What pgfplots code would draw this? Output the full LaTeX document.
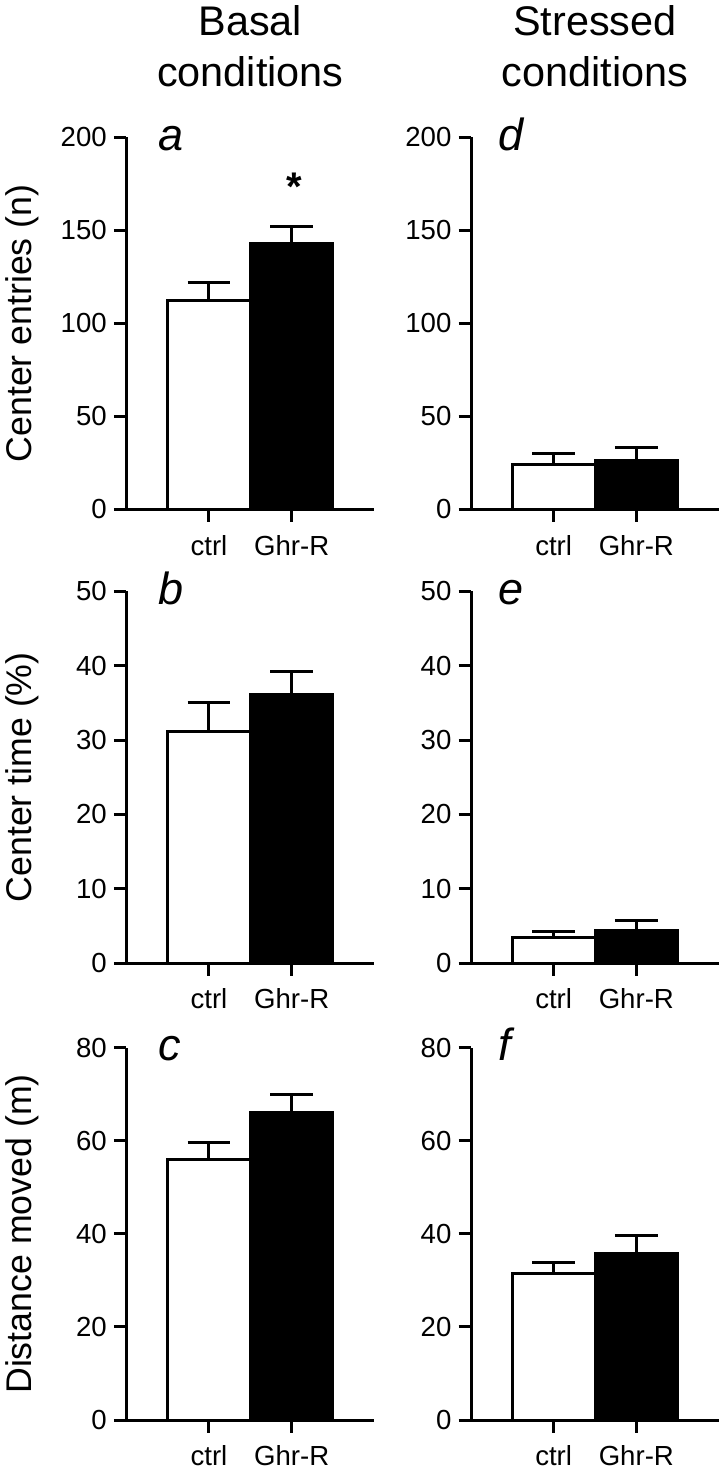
\documentclass[border=0pt]{standalone}
\usepackage{pgfplots}
\pgfplotsset{compat=1.18}
\usepackage{fontspec}
\setmainfont{Liberation Sans}
\pgfplotsset{
  panel/.style={
    scale only axis, width=124pt, height=186pt,
    anchor=south west,
    axis lines=left, axis line style={-, line width=1.5pt, black},
    xmin=0, xmax=3, ymin=0,
    enlargelimits=false,
    xtick={1,2}, xticklabels={ctrl,Ghr-R},
    tick align=outside, major tick length=6.25pt,
    every tick/.style={line width=1.5pt, black},
    ticklabel style={font=\fontsize{13.8}{13.8}\selectfont},
    xticklabel style={yshift=-3pt},
    /pgf/number format/assume math mode=true,
    ylabel style={at={(axis description cs:-0.3823,0.5)}, anchor=base, font=\fontsize{17.85}{18}\selectfont},
    clip=false,
    ybar, bar width=1, bar shift=0pt,
    error bars/y dir=plus, error bars/y explicit,
    error bars/error bar style={line width=1.5pt, black},
    error bars/error mark options={rotate=90, line width=1.5pt, mark size=10.7pt, black},
  },
  ctrl/.style={fill=white, draw=black, line width=1.5pt},
  ghr/.style={fill=black, draw=black, line width=1.5pt},
}
\newcommand{\panelletter}[2]{\node[anchor=base west, font=\fontsize{22.5}{22.5}\selectfont\itshape, xshift=#2, yshift=-6.5pt] at (rel axis cs:0,1) {#1};}
\begin{document}
\begin{tikzpicture}
\useasboundingbox (0,0) rectangle (360pt,736.5pt);
% titles
\node[anchor=base, font=\fontsize{20.7}{20.7}\selectfont] at (125.2pt,718.5pt) {Basal};
\node[anchor=base, font=\fontsize{20.7}{20.7}\selectfont] at (125.2pt,693pt) {conditions};
\node[anchor=base, font=\fontsize{20.7}{20.7}\selectfont] at (297.5pt,718.5pt) {Stressed};
\node[anchor=base, font=\fontsize{20.7}{20.7}\selectfont] at (297.5pt,693pt) {conditions};

% a
\begin{axis}[panel, at={(63.15pt,481.75pt)}, ymax=200, ytick={0,50,100,150,200}, ylabel={Center entries (n)}]
\addplot[ctrl] coordinates {(1,112.3) +- (0,9.5)};
\addplot[ghr] coordinates {(2,143.1) +- (0,9.3)};
\panelletter{a}{12.5pt}
\node[anchor=base, font=\fontsize{20}{20}\selectfont\bfseries] at (axis cs:2.03,166) {*};
\end{axis}
% d
\begin{axis}[panel, at={(235.5pt,481.75pt)}, ymax=200, ytick={0,50,100,150,200}]
\addplot[ctrl] coordinates {(1,24.1) +- (0,5.9)};
\addplot[ghr] coordinates {(2,26.4) +- (0,7.0)};
\panelletter{d}{10pt}
\end{axis}
% b
\begin{axis}[panel, at={(63.15pt,254.85pt)}, ymax=50, ytick={0,10,20,30,40,50}, ylabel={Center time (\%)}]
\addplot[ctrl] coordinates {(1,31.2) +- (0,3.8)};
\addplot[ghr] coordinates {(2,36.1) +- (0,3.1)};
\panelletter{b}{12.5pt}
\end{axis}
% e
\begin{axis}[panel, at={(235.5pt,254.85pt)}, ymax=50, ytick={0,10,20,30,40,50}]
\addplot[ctrl] coordinates {(1,3.44) +- (0,0.9)};
\addplot[ghr] coordinates {(2,4.39) +- (0,1.34)};
\panelletter{e}{10pt}
\end{axis}
% c
\begin{axis}[panel, at={(63.15pt,26.5pt)}, ymax=80, ytick={0,20,40,60,80}, ylabel={Distance moved (m)}]
\addplot[ctrl] coordinates {(1,56.0) +- (0,3.6)};
\addplot[ghr] coordinates {(2,66.2) +- (0,3.7)};
\panelletter{c}{12.5pt}
\end{axis}
% f
\begin{axis}[panel, at={(235.5pt,26.5pt)}, ymax=80, ytick={0,20,40,60,80}]
\addplot[ctrl] coordinates {(1,31.4) +- (0,2.5)};
\addplot[ghr] coordinates {(2,35.7) +- (0,3.9)};
\panelletter{f}{10pt}
\end{axis}
\end{tikzpicture}
\end{document}
